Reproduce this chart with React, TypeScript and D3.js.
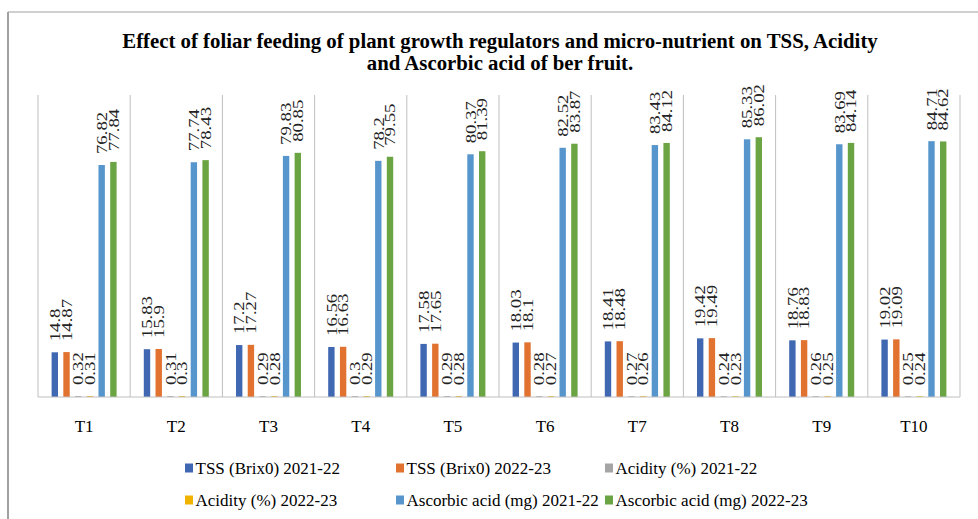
import React from "react";
import { scaleBand, scaleLinear } from "d3";

// treatments
const categories = ["T1", "T2", "T3", "T4", "T5", "T6", "T7", "T8", "T9", "T10"];

const seriesNames = [
  "TSS (Brix0) 2021-22",
  "TSS (Brix0) 2022-23",
  "Acidity (%) 2021-22",
  "Acidity (%) 2022-23",
  "Ascorbic acid (mg) 2021-22",
  "Ascorbic acid (mg) 2022-23",
];

const tss2122 = [14.8, 15.83, 17.2, 16.56, 17.58, 18.03, 18.41, 19.42, 18.76, 19.02];
const tss2223 = [14.87, 15.9, 17.27, 16.63, 17.65, 18.1, 18.48, 19.49, 18.83, 19.09];
const acid2122 = [0.32, 0.31, 0.29, 0.3, 0.29, 0.28, 0.27, 0.24, 0.26, 0.25];
const acid2223 = [0.31, 0.3, 0.28, 0.29, 0.28, 0.27, 0.26, 0.23, 0.25, 0.24];
const asc2122 = [76.82, 77.74, 79.83, 78.2, 80.37, 82.52, 83.43, 85.33, 83.69, 84.71];
const asc2223 = [77.84, 78.43, 80.85, 79.55, 81.39, 83.87, 84.12, 86.02, 84.14, 84.62];

const seriesValues = [tss2122, tss2223, acid2122, acid2223, asc2122, asc2223];
const colors = ["#4068B2", "#E2722F", "#A5A5A5", "#F0B400", "#5796CC", "#6AA443"];

const W = 978;
const H = 519;
const plot = { left: 38, right: 960, top: 95, bottom: 397 };
const serif = "Liberation Serif, Tinos, DejaVu Serif, Noto Serif, serif";

export default function App() {
  const x = scaleBand<string>().domain(categories).range([plot.left, plot.right]);
  const inner = scaleBand<number>()
    .domain(seriesNames.map((_, i) => i))
    .range([0, x.bandwidth()])
    .paddingInner(0.455)
    .paddingOuter(1.16);
  const y = scaleLinear().domain([0, 100]).range([plot.bottom, plot.top]);

  const legendCols = [185, 396, 605];
  const legendRows = [468, 500];

  return (
    <div style={{ position: "fixed", left: 0, top: 0 }}>
      <svg width={W} height={H} style={{ display: "block", background: "#fff", fontFamily: serif }}>
        {/* frame */}
        <line x1={8} y1={12} x2={W} y2={12} stroke="#A0A0A0" strokeWidth={1.2} />
        <line x1={8} y1={12} x2={8} y2={H} stroke="#A0A0A0" strokeWidth={2} />

        {/* title */}
        <text x={500} y={48} textAnchor="middle" fontWeight="bold" fontSize={20.8} fill="#000">
          Effect of foliar feeding of plant growth regulators and micro-nutrient on TSS, Acidity
        </text>
        <text x={500} y={70} textAnchor="middle" fontWeight="bold" fontSize={20.8} fill="#000">
          and Ascorbic acid of ber fruit.
        </text>

        {/* vertical gridlines at category boundaries */}
        {categories.map((c) => (
          <line
            key={"g" + c}
            x1={x(c)!}
            x2={x(c)!}
            y1={plot.top}
            y2={plot.bottom}
            stroke="#BFBFBF"
            strokeWidth={1}
          />
        ))}
        <line x1={plot.right} x2={plot.right} y1={plot.top} y2={plot.bottom} stroke="#BFBFBF" />

        {/* bars */}
        {seriesValues.map((vals, si) =>
          vals.map((v, ci) => {
            const bx = x(categories[ci])! + inner(si)!;
            const by = y(v);
            return (
              <rect
                key={`b${si}-${ci}`}
                x={bx}
                y={by}
                width={inner.bandwidth()}
                height={Math.max(plot.bottom - by, 0)}
                fill={colors[si]}
              />
            );
          })
        )}

        {/* baseline */}
        <line x1={plot.left} x2={plot.right} y1={plot.bottom} y2={plot.bottom} stroke="#BFBFBF" strokeWidth={1.2} />

        {/* data labels */}
        {seriesValues.map((vals, si) =>
          vals.map((v, ci) => {
            const cx = x(categories[ci])! + inner(si)! + inner.bandwidth() / 2;
            const ty = y(v) - 11;
            return (
              <text
                key={`l${si}-${ci}`}
                transform={`translate(${cx},${ty}) rotate(-90) scale(1.25,1)`}
                dy="0.35em"
                fontSize={15}
                fill="#222"
              >
                {String(v)}
              </text>
            );
          })
        )}

        {/* category labels */}
        {categories.map((c) => (
          <text
            key={"c" + c}
            x={x(c)! + x.bandwidth() / 2}
            y={432}
            textAnchor="middle"
            fontSize={17}
            fill="#000"
          >
            {c}
          </text>
        ))}

        {/* legend */}
        {seriesNames.map((name, i) => {
          const lx = legendCols[i % 3];
          const ly = legendRows[Math.floor(i / 3)];
          return (
            <g key={"lg" + i}>
              <rect x={lx} y={ly - 4.5} width={8} height={9} fill={colors[i]} />
              <text x={lx + 10.5} y={ly} dy="0.35em" fontSize={17} fill="#000">
                {name}
              </text>
            </g>
          );
        })}
      </svg>
    </div>
  );
}
